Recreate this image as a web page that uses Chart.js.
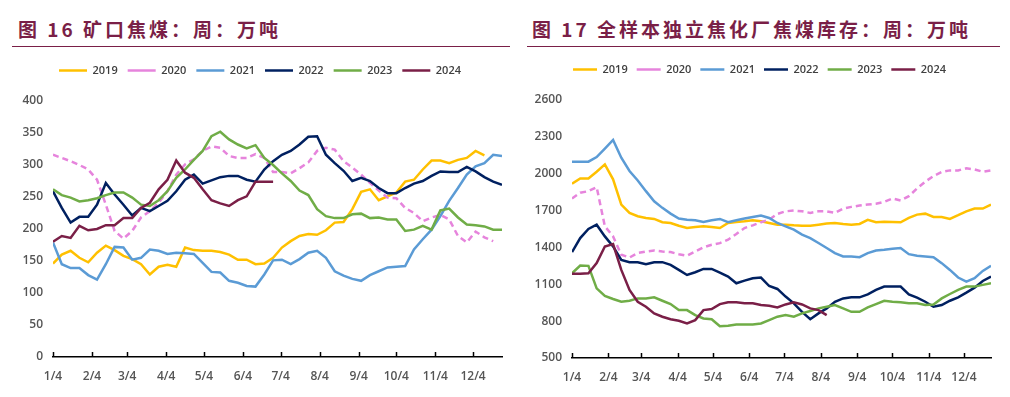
<!DOCTYPE html>
<html>
<head>
<meta charset="utf-8">
<script src="https://cdn.jsdelivr.net/npm/chart.js@4/dist/chart.umd.min.js"></script>
<style>
	body { margin: 0; width: 1010px; height: 397px; background: #fff; position: relative; overflow: hidden; font-family: "Noto Sans CJK SC", sans-serif; }
	.ttl { position: absolute; top: 16px; color: #7a1f47; font-weight: bold; font-size: 19px; letter-spacing: 3px; line-height: 26px; white-space: nowrap; }
	.rule { position: absolute; top: 46px; height: 0; border-top: 1px solid #7a1f47; }
	.box { position: absolute; top: 52px; height: 345px; }
</style>
</head>
<body>
<div class="ttl" style="left:18px">图 16 矿口焦煤：周：万吨</div>
<div class="rule" style="left:12px;width:498px"></div>
<div class="ttl" style="left:532px">图 17 全样本独立焦化厂焦煤库存：周：万吨</div>
<div class="rule" style="left:527px;width:473px"></div>

<div class="box" style="left:0;width:510px"><canvas id="chart-mine"></canvas></div>
<div class="box" style="left:510px;width:500px"><canvas id="chart-stock"></canvas></div>

<script>
// x axis: days since 1/4, one point per week
var monthDays = [0, 31, 59, 90, 120, 151, 181, 212, 243, 273, 304, 334];
var monthLabels = ['1/4', '2/4', '3/4', '4/4', '5/4', '6/4', '7/4', '8/4', '9/4', '10/4', '11/4', '12/4'];
var years = ['2019', '2020', '2021', '2022', '2023', '2024'];

// 图16 矿口焦煤 (万吨)
var mine2019 = [146, 160, 166, 155, 148, 163, 174, 167, 158, 153, 145, 129, 141, 144, 141, 171, 167, 166, 166, 164, 160, 152, 152, 145, 146, 155, 171, 181, 189, 192, 191, 198, 210, 211, 231, 258, 262, 245, 251, 257, 274, 277, 293, 307, 307, 303, 308, 311, 322, 315];
var mine2020 = [316, 311, 306, 300, 293, 277, 238, 197, 185, 197, 218, 228, 241, 259, 285, 301, 309, 322, 329, 327, 314, 311, 311, 317, 311, 289, 289, 287, 295, 304, 322, 327, 324, 306, 296, 285, 272, 260, 249, 248, 233, 225, 212, 218, 222, 215, 189, 179, 196, 187, 181];
var mine2021 = [179, 145, 139, 139, 128, 121, 145, 172, 171, 152, 155, 168, 166, 161, 163, 162, 161, 147, 133, 132, 119, 116, 111, 110, 129, 151, 152, 145, 153, 163, 166, 155, 134, 127, 122, 119, 128, 134, 140, 141, 142, 168, 184, 199, 220, 244, 264, 285, 298, 303, 316, 314];
var mine2022 = [259, 233, 210, 219, 219, 238, 272, 254, 238, 221, 233, 228, 236, 244, 259, 277, 285, 271, 276, 281, 283, 283, 277, 274, 293, 306, 316, 322, 332, 344, 345, 316, 303, 291, 275, 280, 275, 264, 256, 256, 264, 271, 275, 283, 290, 289, 289, 297, 290, 281, 274, 269];
var mine2023 = [262, 253, 249, 243, 245, 248, 253, 257, 257, 249, 238, 236, 245, 259, 280, 293, 308, 322, 345, 352, 340, 332, 326, 331, 311, 300, 287, 275, 260, 253, 231, 220, 217, 217, 223, 224, 217, 218, 215, 215, 197, 199, 205, 199, 229, 232, 218, 207, 206, 204, 199, 199];
var mine2024 = [180, 189, 186, 205, 198, 200, 206, 206, 217, 217, 233, 241, 262, 277, 307, 288, 280, 262, 245, 240, 236, 245, 251, 274, 274, 274];

// 图17 全样本独立焦化厂焦煤库存 (万吨)
var stock2019 = [1918, 1962, 1962, 2016, 2076, 1954, 1749, 1681, 1654, 1640, 1632, 1605, 1599, 1577, 1558, 1566, 1572, 1566, 1558, 1599, 1607, 1613, 1621, 1613, 1599, 1585, 1585, 1580, 1577, 1577, 1585, 1594, 1599, 1591, 1585, 1591, 1624, 1605, 1610, 1607, 1605, 1640, 1667, 1675, 1648, 1648, 1632, 1662, 1694, 1716, 1716, 1749];
var stock2020 = [1798, 1845, 1858, 1891, 1572, 1490, 1340, 1318, 1354, 1367, 1375, 1367, 1362, 1345, 1332, 1367, 1400, 1422, 1435, 1463, 1509, 1558, 1580, 1605, 1626, 1673, 1694, 1700, 1694, 1681, 1694, 1694, 1681, 1716, 1730, 1741, 1749, 1755, 1771, 1798, 1782, 1817, 1880, 1935, 1981, 2014, 2027, 2027, 2044, 2035, 2016, 2027];
var stock2021 = [2098, 2098, 2098, 2136, 2204, 2275, 2130, 2022, 1945, 1858, 1776, 1722, 1675, 1635, 1626, 1621, 1607, 1621, 1632, 1605, 1621, 1635, 1648, 1659, 1640, 1599, 1572, 1545, 1504, 1476, 1436, 1395, 1354, 1326, 1326, 1321, 1354, 1375, 1381, 1389, 1395, 1345, 1332, 1326, 1321, 1272, 1217, 1155, 1122, 1149, 1209, 1250];
var stock2022 = [1362, 1476, 1550, 1585, 1490, 1408, 1299, 1280, 1280, 1264, 1280, 1280, 1258, 1217, 1176, 1198, 1225, 1225, 1195, 1163, 1108, 1130, 1149, 1155, 1086, 1062, 1000, 945, 876, 816, 863, 904, 958, 985, 994, 994, 1018, 1054, 1081, 1081, 1081, 1018, 991, 958, 917, 931, 966, 994, 1032, 1073, 1127, 1163];
var stock2023 = [1190, 1253, 1250, 1067, 1005, 980, 958, 966, 985, 985, 994, 966, 939, 890, 890, 849, 822, 816, 759, 762, 773, 773, 773, 781, 808, 836, 849, 836, 863, 882, 904, 917, 931, 904, 876, 876, 912, 939, 966, 958, 953, 945, 945, 931, 936, 985, 1021, 1054, 1081, 1081, 1095, 1108];
var stock2024 = [1185, 1185, 1190, 1272, 1408, 1427, 1217, 1054, 958, 917, 863, 836, 816, 803, 781, 808, 890, 898, 939, 953, 953, 945, 945, 931, 925, 912, 936, 953, 936, 904, 890, 849];

var lineColors = ['#ffc000', '#e684dc', '#5b9bd5', '#002060', '#70ad47', '#7a1f47'];
var tickFont = { family: 'Open Sans', size: 12, weight: '600' };

// tick marks point up from the x axis line
var innerTicks = {
	id: 'innerTicks',
	afterDatasetsDraw: function(chart) {
		var xs = chart.scales.x, ctx = chart.ctx, b = chart.chartArea.bottom;
		ctx.save();
		ctx.strokeStyle = '#000';
		ctx.lineWidth = 1.5;
		xs.ticks.forEach(function(t) {
			var px = Math.round(xs.getPixelForValue(t.value)) + 0.5;
			ctx.beginPath();
			ctx.moveTo(px, b);
			ctx.lineTo(px, b - 5);
			ctx.stroke();
		});
		ctx.restore();
	}
};

function makeChart(id, series, yMin, yMax, yStep, box) {
	var datasets = series.map(function(vals, k) {
		return {
			label: years[k],
			data: vals.map(function(v, i) { return { x: i * 7, y: v }; }),
			borderColor: lineColors[k],
			backgroundColor: lineColors[k],
			borderWidth: 2.5,
			borderDash: k == 1 ? [6, 4] : [],
			pointRadius: 0,
			tension: 0,
			order: series.length - k
		};
	});

	return new Chart(document.getElementById(id), {
		type: 'line',
		data: { datasets: datasets },
		plugins: [innerTicks],
		options: {
			responsive: true,
			maintainAspectRatio: false,
			animation: false,
			layout: { padding: { top: 3, left: box.padLeft, right: box.padRight, bottom: 0 } },
			plugins: {
				legend: {
					display: true,
					position: 'top',
					labels: {
						usePointStyle: true,
						pointStyle: 'line',
						pointStyleWidth: box.legendLine,
						boxHeight: 11,
						padding: box.legendGap,
						color: '#404040',
						font: { family: 'Open Sans', size: 11, weight: '600' },
						sort: function(a, b) { return a.datasetIndex - b.datasetIndex; }
					}
				},
				// empty title used as a spacer between legend and plot
				title: { display: true, text: '', weight: 0, padding: 0, font: { size: box.gap, lineHeight: 1 } },
				tooltip: { enabled: false }
			},
			scales: {
				x: {
					type: 'linear',
					min: 0,
					max: 357,
					grid: { display: false, drawTicks: false },
					border: { display: true, color: '#000', width: 1.5 },
					afterBuildTicks: function(scale) {
						scale.ticks = monthDays.map(function(d) { return { value: d }; });
					},
					afterFit: function(scale) { scale.height = box.xHeight; },
					ticks: {
						autoSkip: false,
						maxRotation: 0,
						padding: 12,
						color: '#555555',
						font: tickFont,
						callback: function(v) { return monthLabels[monthDays.indexOf(v)]; }
					}
				},
				y: {
					min: yMin,
					max: yMax,
					grid: { display: false, drawTicks: false },
					border: { display: false },
					afterFit: function(scale) { scale.width = box.yWidth; },
					ticks: {
						stepSize: yStep,
						padding: 10,
						color: '#555555',
						font: tickFont,
						callback: function(v) { return String(v); }
					}
				}
			}
		}
	});
}

var chartMine = makeChart('chart-mine', [mine2019, mine2020, mine2021, mine2022, mine2023, mine2024], 0, 400, 50,
	{ padLeft: 18, padRight: 8, yWidth: 35, xHeight: 40, legendLine: 28, legendGap: 10, gap: 15 });
var chartStock = makeChart('chart-stock', [stock2019, stock2020, stock2021, stock2022, stock2023, stock2024], 500, 2600, 300,
	{ padLeft: 18, padRight: 19, yWidth: 44, xHeight: 39, legendLine: 24, legendGap: 9, gap: 15 });
</script>
</body>
</html>
